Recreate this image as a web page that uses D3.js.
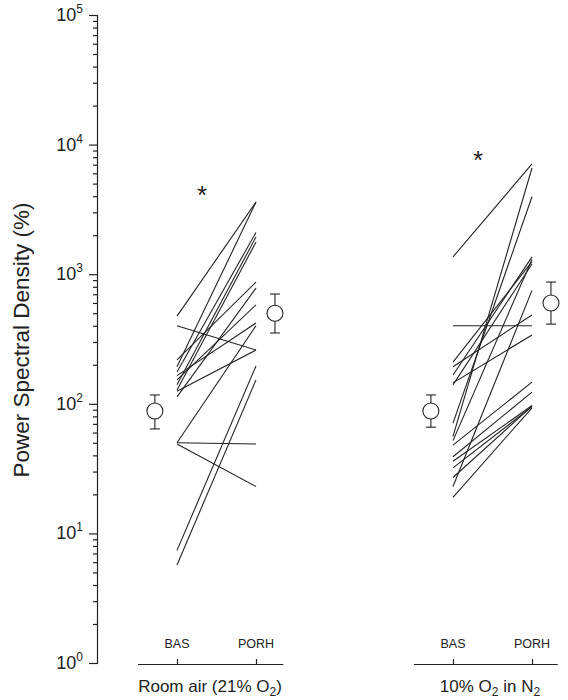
<!DOCTYPE html>
<html><head><meta charset="utf-8">
<script src="https://cdn.jsdelivr.net/npm/d3@7"></script>
<style>body{margin:0;background:#fff}svg{display:block}text{font-family:Arial,"Liberation Sans",sans-serif;fill:#222}</style>
</head><body><svg id="c" width="568" height="700"></svg>
<script>
// ---- data ----
const conditions = ["BAS", "PORH"];
const groups = ["Room air (21% O2)", "10% O2 in N2"];
// individual subjects, room air: [BAS, PORH]
const roomBAS  = [475, 400, 218, 193, 176, 153, 140, 128, 113, 50, 50, 49, 7.4, 5.7, 125, 165];
const roomPORH = [3600, 260, 870, 3600, 2100, 580, 1940, 1770, 780, 400, 49, 23, 196, 153, 260, 420];
// individual subjects, 10% O2: [BAS, PORH]
const hypBAS  = [1360, 400, 210, 193, 167, 145, 71, 56, 52, 48, 39, 36, 32, 23, 19, 140, 27];
const hypPORH = [7100, 400, 1250, 485, 1360, 340, 3960, 6600, 1300, 147, 123, 97, 95, 750, 93, 1200, 96];
// group means with error bars [mean, lower, upper]
const roomMeans = [[88, 64, 117], [500, 352, 703]];
const hypMeans  = [[88, 66, 117], [600, 412, 870]];
const yMajor = [1, 10, 100, 1000, 10000, 100000];
const yExp = ["0", "1", "2", "3", "4", "5"];

const svg = d3.select("#c");
const y = d3.scaleLog().domain([1, 1e5]).range([663, 15]);

// y axis
const minor = [];
for (let e = 0; e < 5; e++) for (let m = 2; m <= 9; m++) minor.push(m * Math.pow(10, e));
const yAxisG = svg.append("g").attr("transform", "translate(97,0)");
yAxisG.call(d3.axisLeft(y).tickValues(yMajor).tickSize(8).tickFormat(() => ""));
yAxisG.append("g").call(d3.axisLeft(y).tickValues(minor).tickSize(4).tickFormat(() => "").tickSizeOuter(0))
  .select(".domain").remove();
yAxisG.selectAll("path,line").attr("stroke", "#222").attr("stroke-width", 1.2);
yMajor.forEach((v, i) => {
  const t = svg.append("text").attr("x", 83).attr("y", y(v) + 6).attr("text-anchor", "end").attr("font-size", 18);
  t.append("tspan").text("10");
  t.append("tspan").attr("dy", -8).attr("font-size", 12).text(yExp[i]);
});
svg.append("text").attr("transform", "translate(29,340) rotate(-90)").attr("text-anchor", "middle")
  .attr("font-size", 22.5).text("Power Spectral Density (%)");

function drawGroup(x0, bas, porh, means, starX, starY, axisEnd) {
  const x = d3.scaleLinear().domain([0, 1]).range([x0, x0 + 79]);
  const g = svg.append("g");
  bas.forEach((b, i) => {
    g.append("line").attr("x1", x(0)).attr("y1", y(b)).attr("x2", x(1)).attr("y2", y(porh[i]))
      .attr("stroke", "#222").attr("stroke-width", 1.1);
  });
  // x axis
  const xa = x.copy().domain([-0.5, axisEnd]).range([x(-0.5), x(axisEnd)]);
  const ax = svg.append("g").attr("transform", "translate(0,664)")
    .call(d3.axisBottom(xa).tickValues([0, 1]).tickSizeInner(-5).tickSizeOuter(0).tickFormat(() => ""));
  ax.selectAll("path,line").attr("stroke", "#222").attr("stroke-width", 1.2);
  conditions.forEach((c, i) => {
    svg.append("text").attr("x", x(i)).attr("y", 648).attr("text-anchor", "middle").attr("font-size", 12.5).text(c);
  });
  // means
  const offs = [-0.28, 1.24];
  means.forEach((m, i) => {
    const cx = x(offs[i]);
    const mg = svg.append("g").attr("stroke", "#222").attr("stroke-width", 1.1).attr("fill", "#fff");
    mg.append("line").attr("x1", cx).attr("x2", cx).attr("y1", y(m[1])).attr("y2", y(m[2]));
    mg.append("line").attr("x1", cx - 5).attr("x2", cx + 5).attr("y1", y(m[1])).attr("y2", y(m[1]));
    mg.append("line").attr("x1", cx - 5).attr("x2", cx + 5).attr("y1", y(m[2])).attr("y2", y(m[2]));
    mg.append("circle").attr("cx", cx).attr("cy", y(m[0])).attr("r", 8);
  });
  svg.append("text").attr("x", starX).attr("y", starY).attr("text-anchor", "middle").attr("font-size", 26).text("*");
  return x;
}
drawGroup(177, roomBAS, roomPORH, roomMeans, 202, 204, 1.34);
drawGroup(453, hypBAS, hypPORH, hypMeans, 478, 169, 1.32);

const t1 = svg.append("text").attr("x", 210).attr("y", 692).attr("text-anchor", "middle").attr("font-size", 17);
t1.append("tspan").text("Room air (21% O");
t1.append("tspan").attr("font-size", 12).attr("dy", 4).text("2");
t1.append("tspan").attr("dy", -4).text(")");
const t2 = svg.append("text").attr("x", 490).attr("y", 692).attr("text-anchor", "middle").attr("font-size", 17);
t2.append("tspan").text("10% O");
t2.append("tspan").attr("font-size", 12).attr("dy", 4).text("2");
t2.append("tspan").attr("dy", -4).text(" in N");
t2.append("tspan").attr("font-size", 12).attr("dy", 4).text("2");
</script></body></html>
